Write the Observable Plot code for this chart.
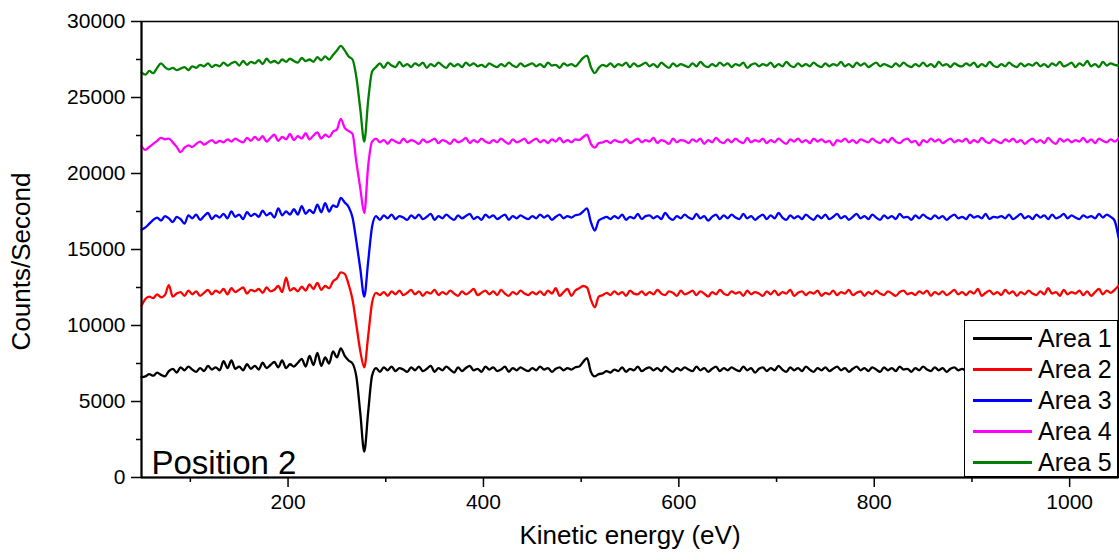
<!DOCTYPE html>
<html>
<head>
<meta charset="utf-8">
<script src="https://cdn.jsdelivr.net/npm/d3@7"></script>
<script src="https://cdn.jsdelivr.net/npm/@observablehq/plot@0.6"></script>
<style>
  html, body { margin: 0; padding: 0; background: #fff; }
  #wrap { position: relative; width: 1119px; height: 560px; font-family: "Liberation Sans", Arial, sans-serif; }
  #legend { position: absolute; left: 964px; top: 320px; width: 152px; height: 155px; border: 1.5px solid #000; background: #fff; box-sizing: content-box; }
  .row { position: absolute; left: 0; height: 31px; width: 152px; }
  .row .sw { position: absolute; left: 8px; top: 14px; width: 59px; height: 2.5px; }
  .row .lb { position: absolute; left: 73px; top: 1px; font-size: 25px; line-height: 28px; color: #000; }
</style>
</head>
<body>
<div id="wrap"><div id="chart"></div><div id="legend"></div></div>
<script>
// sampling energies (eV)
const energy = d3.range(50, 1051, 4);
const seriesNames = ["Area 1", "Area 2", "Area 3", "Area 4", "Area 5"];
const seriesColors = ["#000000", "#ff0000", "#0000ff", "#ff00ff", "#008000"];
const xTicks = [200, 400, 600, 800, 1000];
const xMinorTicks = [100, 300, 500, 700, 900];
const yTicks = [0, 5000, 10000, 15000, 20000, 25000, 30000];
const yMinorTicks = [2500, 7500, 12500, 17500, 22500, 27500];

const area1 = [
6600,6650,6800,6700,6900,6750,6650,7000,7150,6900,
7250,7050,7300,7100,6950,7200,7000,7350,7100,7250,
7050,7650,7200,7700,7150,7300,7050,7450,7150,7350,
7100,7550,7200,7400,7600,7250,7700,7200,7450,7300,
7550,7800,7300,8000,7400,8200,7350,7900,7500,8300,
7900,8500,8000,7700,7500,6600,4200,1700,4300,6700,
7200,6950,7250,7050,7300,7000,7200,7100,6950,7250,
7050,7300,7000,7150,7350,6950,7200,7050,7300,7100,
6900,7250,7000,7200,7350,7050,7150,6950,7300,7100,
7250,7000,7100,7300,6950,7200,7050,7250,7100,7000,
7200,7050,7300,7100,7200,6950,7150,7250,7050,7200,
7100,7250,7300,7600,7850,6950,6650,6800,6850,7000,
6900,7100,7000,7250,6950,7150,7050,7300,7000,7150,
7250,7050,7200,7000,7300,7100,6950,7200,7050,7250,
7100,7000,7300,7050,7200,6950,7150,7300,7000,7200,
7050,7250,7100,7000,7300,7050,7200,6900,7150,7250,
7000,7200,7050,7350,7100,6950,7250,7050,7200,7000,
7300,7100,6950,7200,7050,7250,7000,7150,7300,7050,
7200,6950,7150,7300,7050,7200,7000,7250,7100,6950,
7250,7050,7200,7000,7300,7100,7150,6950,7200,7050,
7300,7100,7000,7250,7050,7200,6950,7150,7250,7050,
7150,7000,7250,7100,7200,7050,7300,7000,7150,7100,
7200,7050,7250,7000,7150,7300,7050,7200,7000,7250,
7100,7200,7000,7250,7050,7150,7300,7050,7200,7100,
7000,7250,7100,7200,7050,7300,7100,7000,7200,7150,
7100];

const area2 = [
11300,11750,11900,11800,12050,11850,12000,12650,11900,12100,
12200,11950,12300,12050,12250,11950,12150,12350,12050,12300,
12150,12400,12050,12450,12200,12350,12500,12100,12350,12250,
12400,12150,12500,12250,12350,12600,12200,13150,12300,12450,
12250,12550,12300,12700,12400,12800,12350,12600,12450,12900,
13100,13500,13400,12700,11700,10000,8300,7250,9300,11500,
12150,12000,12200,11950,12250,12050,12300,12000,12150,12350,
12050,12250,11950,12200,12100,12350,12000,12200,12050,12300,
12100,11950,12250,12050,12200,12400,12000,12150,12300,12050,
12250,12000,12350,12100,11950,12200,12050,12300,12100,12000,
12200,12050,12250,12000,12300,12100,12450,11950,12200,12400,
11950,12300,12450,12600,12500,11700,11200,11900,12000,12150,
12000,12250,12050,12200,11950,12300,12100,12050,12250,12000,
12200,12050,12350,12100,12000,12250,12150,11950,12300,12050,
12150,12300,12000,12250,12100,11900,12200,12050,12350,12100,
12000,12250,12100,12200,11950,12300,12050,12200,12100,11950,
12250,12050,12300,12000,12200,12100,12350,11950,12150,12250,
12000,12200,12100,12300,11950,12150,12050,12300,12000,12200,
12100,12350,12000,12150,12250,11950,12200,12050,12300,12100,
12000,12250,12100,11950,12200,12300,12050,12150,12000,12250,
12100,12300,11950,12200,12050,12250,12000,12150,12350,12050,
12200,12000,12250,12100,12400,11950,12150,12300,12050,12200,
12000,12350,12100,12250,11950,12200,12050,12300,12100,12000,
12250,12050,12450,12100,12200,11950,12350,12050,12200,12100,
12300,12000,12250,11950,12200,12400,12050,12300,12150,12350,
12600];

const area3 = [
16300,16450,16700,16950,17100,16900,17200,17050,16800,17150,
17000,16700,17250,17050,17300,16950,17200,17400,17000,17250,
17100,17350,17050,17500,17150,17300,17000,17450,17200,17350,
17150,17550,17250,17400,17100,17700,17250,17500,17300,17650,
17300,17850,17350,17600,17400,17950,17450,18050,17500,17900,
17800,18400,18100,17800,17100,15500,13700,11900,14200,16500,
17200,16950,17250,17050,17300,17000,17200,17100,16950,17250,
17050,17300,17000,17150,17350,16950,17200,17050,17300,17100,
16950,17250,17050,17200,17350,17000,17150,16950,17300,17100,
17250,17000,17150,17300,16950,17200,17050,17250,17100,17000,
17200,17050,17300,17100,17250,16950,17150,17300,17050,17200,
17100,17250,17300,17500,17700,16800,16250,16900,17050,17150,
17000,17200,17050,17300,16950,17150,17050,17350,17000,17200,
17250,17050,17200,17000,17400,17100,16950,17200,17050,17300,
17100,17000,17350,17050,17200,16900,17150,17300,17000,17250,
17050,17300,17100,17000,17350,17050,17200,16950,17150,17300,
17000,17250,17050,17400,17100,16950,17250,17050,17200,17000,
17300,17100,16950,17250,17050,17300,17000,17150,17350,17050,
17200,16950,17150,17350,17050,17200,17000,17300,17100,16950,
17250,17050,17200,17000,17350,17100,17150,16950,17250,17050,
17300,17100,17000,17250,17050,17200,16950,17150,17300,17050,
17150,17000,17300,17100,17200,17050,17350,17000,17150,17100,
17200,17050,17300,17000,17150,17350,17050,17200,17000,17300,
17100,17250,17000,17300,17050,17150,17350,17050,17250,17100,
17000,17250,17100,17200,17050,17350,17100,17300,17150,16900,
15800];

const area4 = [
21800,21550,21750,21950,22150,22350,22250,22300,22050,21750,
21400,21700,21850,21750,21950,22100,21900,22050,22200,22000,
22150,22050,22250,22100,22300,22150,22050,22350,22150,22400,
22200,22450,22100,22350,22550,22150,22400,22250,22600,22200,
22450,22300,22650,22250,22500,22700,22300,22550,22400,22750,
22900,23600,23000,22800,22600,20700,19000,17400,20500,22100,
22300,22050,22200,21950,22250,22100,22000,22300,22050,22200,
22100,21950,22250,22050,22150,22300,22000,22200,22100,21950,
22250,22050,22150,22350,22000,22200,22050,22300,22100,22000,
22200,22050,22300,22100,21950,22250,22050,22150,22300,22000,
22150,22300,22050,22200,22000,22250,22100,22350,22050,22200,
22050,22250,22200,22400,22550,21950,21700,22000,22050,22150,
22000,22200,22100,22050,22250,22000,22150,22300,22050,22200,
22100,22350,22000,22200,22100,21950,22300,22050,22200,22150,
22000,22250,22100,22300,21950,22200,22050,22350,22100,22000,
22250,22050,22300,22100,22000,22350,22050,22200,22100,22300,
22000,22200,22050,22300,22100,21950,22250,22100,22300,22050,
22200,22000,22300,22100,22250,22050,22150,21850,22200,22100,
22300,22050,22200,22000,22250,22150,22050,22300,22100,22000,
22250,22050,22350,22100,22000,22200,22300,22050,22150,21850,
22200,22050,22300,22100,22250,22000,22150,22300,22050,22200,
22100,22300,22000,22200,22050,22350,22100,22000,22250,22100,
22000,22250,22100,22300,22050,22200,21950,22150,22300,22050,
22200,22000,22350,22100,21950,22300,22100,22250,22050,22200,
22100,22350,22050,22250,22000,22300,22150,22050,22250,22100,
22300];

const area5 = [
26650,26500,26750,26600,26950,27250,27000,26850,26950,26800,
26900,27000,26800,27050,26950,27150,27050,27250,27000,27150,
27050,27300,27100,27250,27350,27100,27400,27150,27350,27250,
27450,27200,27550,27300,27400,27250,27500,27350,27550,27400,
27300,27600,27400,27500,27350,27650,27450,27700,27500,27800,
28100,28400,28100,27700,27500,26300,24200,22100,24800,26700,
27000,27250,26950,27300,27100,27000,27350,27050,27200,27000,
27250,27100,27300,26950,27200,27050,27300,27100,26950,27250,
27050,27200,27000,27300,27100,27250,27050,27150,27000,27250,
27100,27000,27200,27050,27300,27100,27000,27250,27050,27150,
27250,27050,27200,27000,27300,27100,27150,26950,27250,27100,
27200,27050,27300,27600,27750,27000,26600,26950,27150,27050,
27250,27000,27200,27100,27300,27000,27250,27050,27150,27300,
27050,27200,27000,27300,27100,26950,27250,27050,27200,27100,
27000,27250,27050,27350,27100,27000,27200,27050,27300,27100,
27250,27000,27200,27100,27300,26950,27150,27250,27050,27200,
27100,27300,27000,27200,27050,27350,27100,27000,27250,27050,
27200,27050,27300,27100,27000,27250,27050,27200,27100,27350,
27050,27200,27000,27300,27100,27250,27000,27150,27300,27050,
27200,27100,27000,27250,27050,27300,27100,27000,27200,27050,
27300,27050,27200,27000,27350,27100,27200,27000,27250,27100,
27050,27250,27100,27300,27000,27200,27050,27350,27100,27000,
27200,27050,27300,27100,27000,27250,27050,27200,27100,27300,
27050,27200,27000,27250,27100,27350,27050,27150,27300,27000,
27250,27100,27400,27050,27200,27000,27350,27100,27250,27150,
27100];

const allSeries = [area1, area2, area3, area4, area5];
const rows = [];
allSeries.forEach((vals, k) => {
  vals.forEach((v, i) => { if (i < energy.length) rows.push({x: energy[i], y: v, s: seriesNames[k]}); });
});

const FONT = "'Liberation Sans', Arial, sans-serif";
const chart = Plot.plot({
  width: 1119,
  height: 560,
  marginLeft: 141,
  marginRight: 1,
  marginTop: 21,
  marginBottom: 83,
  style: {fontFamily: FONT, fontSize: "21px", background: "#fff", color: "#000", overflow: "visible"},
  x: {domain: [50, 1050]},
  y: {domain: [0, 30000]},
  color: {domain: seriesNames, range: seriesColors},
  marks: [
    Plot.frame({stroke: "#000", strokeWidth: 1.5}),
    Plot.line(rows, {x: "x", y: "y", z: "s", stroke: "s", strokeWidth: 2.3, curve: "monotone-x"}),
    Plot.axisX({ticks: xTicks, tickSize: 10, tickPadding: 7, tickFormat: d => String(d), fontSize: 21, label: null, strokeWidth: 1.5}),
    Plot.axisX({ticks: xMinorTicks, tickSize: 5, tickFormat: null, text: null, label: null, strokeWidth: 1.5}),
    Plot.axisY({ticks: yTicks, tickSize: 10, tickPadding: 6, tickFormat: d => String(d), fontSize: 21, label: null, strokeWidth: 1.5}),
    Plot.axisY({ticks: yMinorTicks, tickSize: 5, tickFormat: null, text: null, label: null, strokeWidth: 1.5}),
    Plot.ruleX([50], {stroke: "#000", strokeWidth: 2}),
    Plot.ruleY([0], {stroke: "#000", strokeWidth: 2}),
    Plot.text(["Kinetic energy (eV)"], {frameAnchor: "bottom", dy: 66, fontSize: 26, fill: "#000"}),
    Plot.text(["Counts/Second"], {frameAnchor: "left", textAnchor: "middle", rotate: -90, dx: -120, dy: 12, fontSize: 26, fill: "#000"}),
    Plot.text(["Position 2"], {frameAnchor: "bottom-left", textAnchor: "start", lineAnchor: "bottom", dx: 10, dy: -4, fontSize: 33, fill: "#000"})
  ]
});
document.getElementById("chart").appendChild(chart);

const legend = document.getElementById("legend");
seriesNames.forEach((name, k) => {
  const r = document.createElement("div");
  r.className = "row";
  r.style.top = (2 + k * 31) + "px";
  const sw = document.createElement("div");
  sw.className = "sw";
  sw.style.background = seriesColors[k];
  const lb = document.createElement("div");
  lb.className = "lb";
  lb.textContent = name;
  r.appendChild(sw); r.appendChild(lb);
  legend.appendChild(r);
});
</script>
</body>
</html>
